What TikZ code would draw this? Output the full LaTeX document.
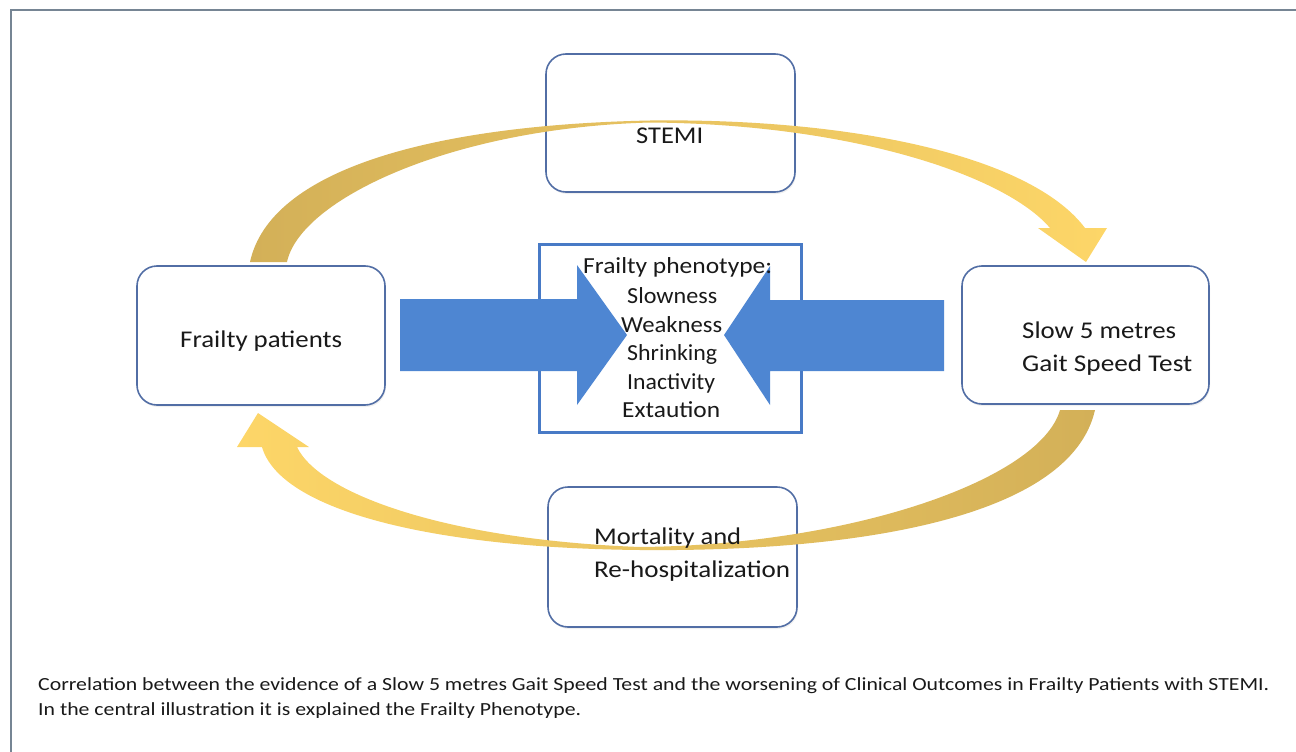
\documentclass[tikz,border=0pt]{standalone}
\usepackage{fontspec}
\setmainfont{Carlito}
\usepackage{graphicx}
\usetikzlibrary{shadows}
\definecolor{framec}{RGB}{118,133,148}
\definecolor{boxc}{RGB}{82,110,165}
\definecolor{bluec}{RGB}{78,134,210}
\definecolor{phenoc}{RGB}{72,122,198}
\definecolor{goldD}{RGB}{211,176,88}
\definecolor{goldL}{RGB}{253,214,104}
\definecolor{txt}{RGB}{25,25,25}
\newcommand{\fitw}[2]{\resizebox{#1}{\height}{#2}}
\begin{document}
\begin{tikzpicture}[x=1pt,y=-1pt,
  rbox/.style={draw=boxc, line width=1.6pt, rounded corners=20pt, fill=white,
    drop shadow={opacity=0.12, shadow xshift=1pt, shadow yshift=-2pt},
    inner sep=0pt},
  lbl/.style={inner sep=0pt, anchor=base west, text=txt, font=\fontsize{24}{29}\selectfont},
  plbl/.style={inner sep=0pt, anchor=base west, text=txt, font=\fontsize{23}{28}\selectfont},
  captext/.style={inner sep=0pt, anchor=base west, text=txt, font=\fontsize{18.5}{23}\selectfont},
  blockarrow/.style={fill=bluec, draw=none},
  goldarrow/.style={draw=none}]
\useasboundingbox (0,0) rectangle (1296,752);
% frame
\draw[framec, line width=2pt] (11,752) -- (11,10) -- (1296,10);

% rounded boxes
\node[rbox, minimum width=249pt, minimum height=138pt] (stemi) at (670.5,123) {};
\node[rbox, minimum width=248pt, minimum height=139pt] (frail) at (261,335.5) {};
\node[rbox, minimum width=247pt, minimum height=138pt] (slow) at (1085.5,335) {};
\node[rbox, minimum width=249pt, minimum height=140pt] (mort) at (672.5,557) {};

% central phenotype box
\node[draw=phenoc, line width=3pt, minimum width=262pt, minimum height=188pt, inner sep=0pt] (pheno) at (670,338) {};

% blue block arrows
\path[blockarrow] (400,299) -- (577,299) -- (577,265) -- (627,335) -- (577,405) -- (577,371) -- (400,371) -- cycle;
\path[blockarrow] (944,300) -- (770,300) -- (770,266) -- (724,335) -- (770,405) -- (770,371) -- (944,371) -- cycle;

% gold curved arrows
\path[goldarrow, left color=goldD, right color=goldL]
 (250,262) .. controls (270,170) and (430,125) .. (650,120.5)
 .. controls (850,118) and (1030,155) .. (1085,228)
 -- (1107,228) -- (1086,262) -- (1038,228) -- (1050,228)
 .. controls (1005,175) and (850,124) .. (650,122.5)
 .. controls (450,128) and (300,200) .. (287,262) -- cycle;
\path[goldarrow, left color=goldL, right color=goldD]
 (1095,410) .. controls (1070,520) and (850,552) .. (640,550)
 .. controls (430,548) and (280,510) .. (262,447)
 -- (237,447) -- (258,413) -- (309,447) -- (297,447)
 .. controls (320,495) and (450,540) .. (640,547)
 .. controls (850,545) and (1040,480) .. (1060,410) -- cycle;

% box texts
\node[lbl] (stemiT) at (636,143) {\fitw{67pt}{STEMI}};
\node[lbl] (frailT) at (180,347) {\fitw{162pt}{Frailty patients}};
\node[lbl] (slowT1) at (1022,338) {\fitw{154pt}{Slow 5 metres}};
\node[lbl] (slowT2) at (1022,371) {\fitw{170pt}{Gait Speed Test}};
\node[lbl] (mortT1) at (594,544) {\fitw{147pt}{Mortality and}};
\node[lbl] (mortT2) at (594,577) {\fitw{196pt}{Re-hospitalization}};

% phenotype texts
\node[plbl] (p0) at (583,273) {\fitw{189pt}{Frailty phenotype:}};
\node[plbl] (p1) at (627,303) {\fitw{90pt}{Slowness}};
\node[plbl] (p2) at (621,332) {\fitw{101pt}{Weakness}};
\node[plbl] (p3) at (627,360) {\fitw{90pt}{Shrinking}};
\node[plbl] (p4) at (627,389) {\fitw{88pt}{Inactivity}};
\node[plbl] (p5) at (622,417) {\fitw{98pt}{Extaution}};

% caption
\node[captext] (cap1) at (38,690) {\fitw{1231pt}{Correlation between the evidence of a Slow 5 metres Gait Speed Test and the worsening of Clinical Outcomes in Frailty Patients with STEMI.}};
\node[captext] (cap2) at (38,715) {\fitw{543pt}{In the central illustration it is explained the Frailty Phenotype.}};
\end{tikzpicture}
\end{document}
